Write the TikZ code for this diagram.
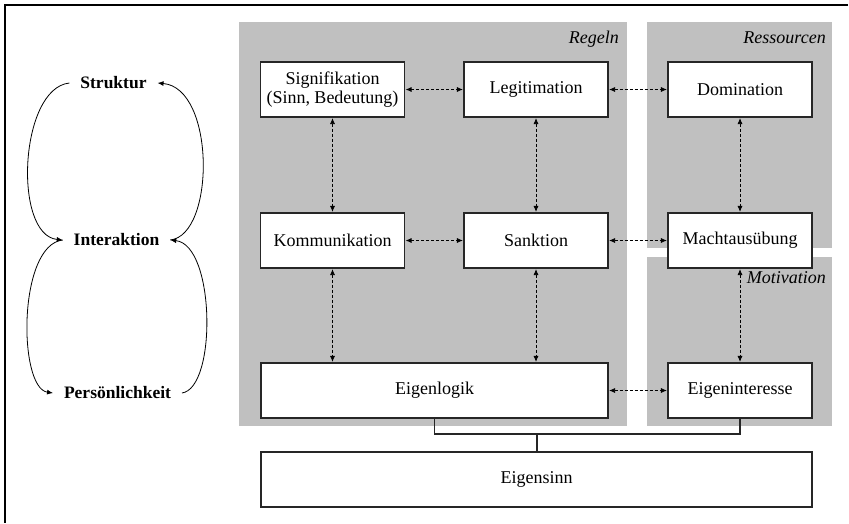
\documentclass[tikz,border=0pt]{standalone}
\usepackage{fontspec}
\setmainfont{Liberation Serif}
\usetikzlibrary{arrows.meta}
\definecolor{regiongray}{RGB}{192,192,192}
\begin{document}
\begin{tikzpicture}[x=1pt,y=-1pt,
  font=\fontsize{18}{19.5}\selectfont,
  box/.style={draw=black!85, line width=1.1pt, fill=white, minimum width=144pt,
    minimum height=55pt, inner sep=0pt, align=center},
  looplabel/.style={font=\fontsize{17.5}{19.5}\selectfont\bfseries, inner sep=0pt, outer sep=11pt},
  regionlabel/.style={font=\fontsize{18}{19.5}\selectfont\itshape, inner sep=0pt, anchor=base east},
  dasharrow/.style={line width=0.8pt, dash pattern=on 3pt off 2pt,
    {Latex[length=6pt,width=5pt]}-{Latex[length=6pt,width=5pt]}, shorten <=0.5pt, shorten >=0.5pt},
  looparrow/.style={line width=0.8pt, -{Latex[length=6pt,width=5pt]}},
  busline/.style={line width=1.1pt, draw=black!85}
]
\useasboundingbox (0,0) rectangle (849,523);
% frame
\draw[line width=2pt] (848,5) -- (5,5) -- (5,523);
% regions
\fill[regiongray] (239,22) rectangle (627,426);
\fill[regiongray] (647,22) rectangle (832,248);
\fill[regiongray] (647,257) rectangle (832,426);
\node[regionlabel] (lreg) at (619,43) {Regeln};
\node[regionlabel] (lres) at (826,43) {Ressourcen};
\node[regionlabel] (lmot) at (826,283) {Motivation};
% boxes
\node[box] (sig) at (332.5,89.5) {Signifikation\\(Sinn, Bedeutung)};
\node[box] (leg) at (536,89.5) {Legitimation};
\node[box] (dom) at (740,89.5) {Domination};
\node[box] (kom) at (332.5,240.5) {Kommunikation};
\node[box] (san) at (536,240.5) {Sanktion};
\node[box] (mac) at (740,240.5) {Machtausübung};
\node[box, minimum width=347pt] (elog) at (434.5,390.5) {Eigenlogik};
\node[box] (eint) at (740,390.5) {Eigeninteresse};
\node[box, minimum width=551pt] (esinn) at (536.5,479.5) {Eigensinn};
% dashed arrows
\draw[dasharrow] (sig.east) -- (leg.west);
\draw[dasharrow] (leg.east) -- (dom.west);
\draw[dasharrow] (kom.east) -- (san.west);
\draw[dasharrow] (san.east) -- (mac.west);
\draw[dasharrow] (elog.east) -- (eint.west);
\draw[dasharrow] (sig.south) -- (kom.north);
\draw[dasharrow] (leg.south) -- (san.north);
\draw[dasharrow] (dom.south) -- (mac.north);
\draw[dasharrow] (kom.south) -- (kom.south |- elog.north);
\draw[dasharrow] (san.south) -- (san.south |- elog.north);
\draw[dasharrow] (mac.south) -- (eint.north);
% bus to Eigensinn
\coordinate (bus) at (537,434);
\draw[busline] (elog.south) |- (bus) -| (eint.south);
\draw[busline] (bus) -- (bus |- esinn.north);
% left loops
\node[looplabel] (str) at (113.5,83) {Struktur};
\node[looplabel] (int) at (116.5,240) {Interaktion};
\node[looplabel] (per) at (117.5,393) {Persönlichkeit};
\draw[looparrow] (str.west) .. controls +(-50,5) and +(-50,-5) .. (int.west);
\draw[looparrow] (int.west) .. controls +(-45,5) and +(-35,-5) .. (per.west);
\draw[looparrow] (per.east) .. controls +(35,-5) and +(45,5) .. (int.east);
\draw[looparrow] (int.east) .. controls +(45,-5) and +(58,5) .. (str.east);
\end{tikzpicture}
\end{document}
